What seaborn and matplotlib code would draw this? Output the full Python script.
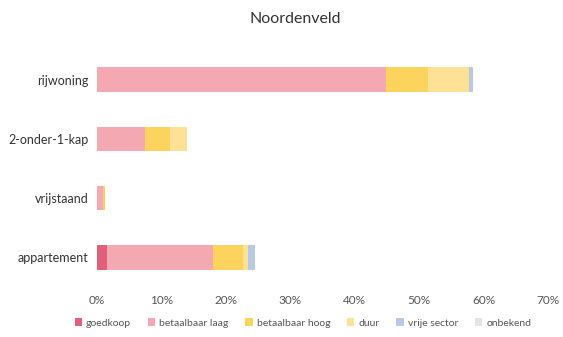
import matplotlib
matplotlib.use("Agg")
import matplotlib.pyplot as plt
from matplotlib.patches import Patch
import seaborn as sns
import pandas as pd

# Share of dwellings per type and price class (%)
categories = ["rijwoning", "2-onder-1-kap", "vrijstaand", "appartement"]
series = ["goedkoop", "betaalbaar laag", "betaalbaar hoog", "duur", "vrije sector", "onbekend"]
goedkoop = [0.0, 0.0, 0.0, 1.5]
betaalbaar_laag = [44.9, 7.5, 1.0, 16.5]
betaalbaar_hoog = [6.4, 3.9, 0.2, 4.7]
duur = [6.5, 2.6, 0.0, 0.8]
vrije_sector = [0.6, 0.0, 0.0, 1.0]
onbekend = [0.0, 0.0, 0.0, 0.0]
colors = ["#e0607a", "#f4a9b2", "#fcd35c", "#fde295", "#b9c9e2", "#e4e4e4"]
xticks = [0, 10, 20, 30, 40, 50, 60, 70]

sns.set_theme(style="white")
plt.rcParams["font.family"] = ["Lato", "DejaVu Sans"]

df = pd.DataFrame({
    "type": categories,
    "goedkoop": goedkoop,
    "betaalbaar laag": betaalbaar_laag,
    "betaalbaar hoog": betaalbaar_hoog,
    "duur": duur,
    "vrije sector": vrije_sector,
    "onbekend": onbekend,
})
cum = df[series].cumsum(axis=1)
cum["type"] = df["type"]

fig = plt.figure(figsize=(5.63, 3.37), dpi=100)
ax = fig.add_axes([97 / 563, 1 - 287 / 337, (548 - 97) / 563, (287 - 50) / 337])

# Stack by drawing cumulative totals, outermost first
for name, col in reversed(list(zip(series, colors))):
    sns.barplot(data=cum, x=name, y="type", order=categories, color=col,
                width=0.41, saturation=1, ax=ax, linewidth=0)

ax.set_xlim(0, 70)
ax.set_xticks(xticks)
ax.set_xticklabels([f"{t}%" for t in xticks], fontsize=8.5, color="#555555")
ax.tick_params(axis="y", labelsize=9, colors="#333333", pad=6, length=0)
ax.tick_params(axis="x", length=0, pad=6)
ax.set_xlabel("")
ax.set_ylabel("")
sns.despine(ax=ax, left=True, bottom=True)

fig.text(295 / 563, 1 - 19 / 337, "Noordenveld", ha="center", va="center",
         fontsize=11.5, color="#333333")

handles = [Patch(facecolor=c, edgecolor="none") for c in colors]
fig.legend(handles, series, loc="center", bbox_to_anchor=(303 / 563, 1 - 323 / 337),
           ncol=6, frameon=False, fontsize=7.5, handlelength=0.7, handleheight=0.7,
           columnspacing=1.6, handletextpad=0.4, labelcolor="#555555")

fig.savefig("out.png", dpi=100)
